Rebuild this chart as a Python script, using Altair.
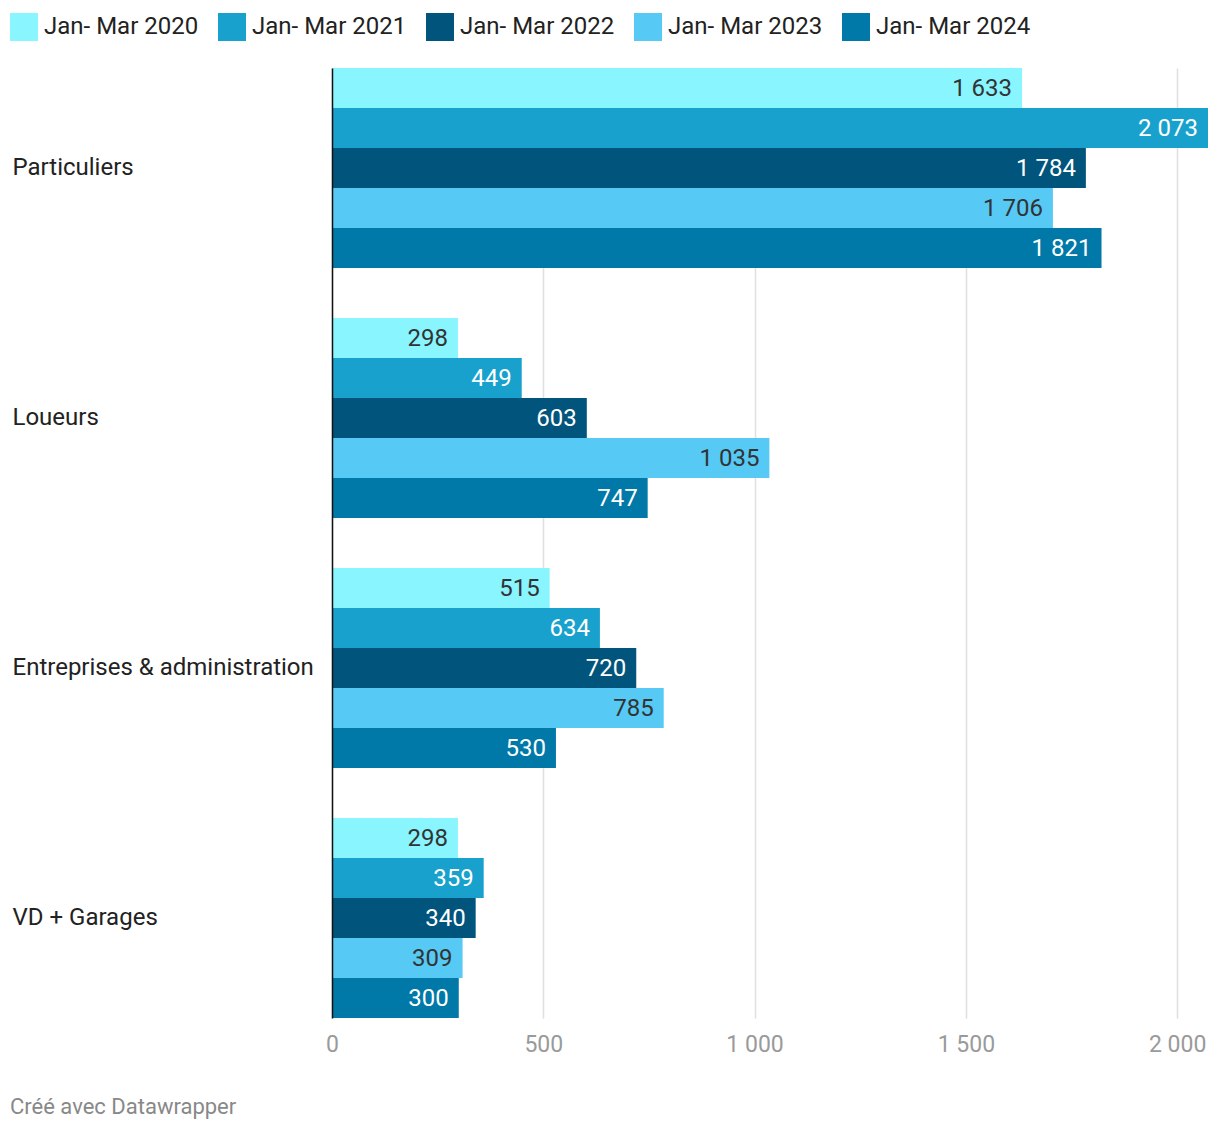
import altair as alt
import pandas as pd

categories = ["Particuliers", "Loueurs", "Entreprises & administration", "VD + Garages"]
periods = ["Jan- Mar 2020", "Jan- Mar 2021", "Jan- Mar 2022", "Jan- Mar 2023", "Jan- Mar 2024"]
v2020 = [1633, 298, 515, 298]
v2021 = [2073, 449, 634, 359]
v2022 = [1784, 603, 720, 340]
v2023 = [1706, 1035, 785, 309]
v2024 = [1821, 747, 530, 300]
colors = ["#88f5ff", "#19a1cd", "#01557d", "#56c9f5", "#0079a8"]
x_ticks = [0, 500, 1000, 1500, 2000]

series = [v2020, v2021, v2022, v2023, v2024]
rows = []
for p, vals in zip(periods, series):
    for c, v in zip(categories, vals):
        rows.append({"category": c, "period": p, "value": v,
                     "label": f"{v:,}".replace(",", " ")})
df = pd.DataFrame(rows)

FONT = "Roboto"

base = alt.Chart(df).encode(
    y=alt.Y("category:N", sort=categories,
            scale=alt.Scale(paddingInner=0.2, paddingOuter=0),
            axis=alt.Axis(title=None, labelAlign="left", labelPadding=320, ticks=False,
                          domain=True, domainColor="#111111", domainWidth=1.5,
                          labelFontSize=24, labelColor="#222222", labelFont=FONT,
                          labelLimit=400, grid=False, labelBaseline="middle", zindex=2)),
    yOffset=alt.YOffset("period:N", sort=periods,
                        scale=alt.Scale(paddingInner=0, paddingOuter=0)),
)

bars = base.mark_bar(size=40).encode(
    x=alt.X("value:Q", scale=alt.Scale(domain=[0, 2073], nice=False, zero=True),
            axis=alt.Axis(title=None, values=x_ticks, domain=False, ticks=False, grid=True,
                          gridColor="#e0e0e0", gridWidth=1.5, labelColor="#9a9a9a",
                          labelFontSize=23, labelFont=FONT, labelPadding=15, labelFlush=False,
                          labelExpr="replace(format(datum.value, ','), ',', ' ')")),
    color=alt.Color("period:N", sort=periods,
                    scale=alt.Scale(domain=periods, range=colors),
                    legend=alt.Legend(title=None, orient="none", direction="horizontal",
                                      legendX=-322, legendY=-55, symbolType="square",
                                      symbolSize=784, symbolStrokeWidth=0, symbolOpacity=1,
                                      labelFontSize=24, labelFont=FONT, labelColor="#222222",
                                      labelOffset=6, columnPadding=19, padding=0,
                                      labelLimit=300)),
)

labels = base.mark_text(align="right", baseline="middle", dx=-10, dy=1, fontSize=24, font=FONT).encode(
    x="value:Q",
    text="label:N",
    color=alt.condition(
        alt.FieldOneOfPredicate(field="period", oneOf=["Jan- Mar 2020", "Jan- Mar 2023"]),
        alt.value("#333333"), alt.value("#ffffff")),
)

footer = alt.Chart(pd.DataFrame({"t": ["Créé avec Datawrapper"]})).mark_text(
    align="left", baseline="middle", fontSize=22, font=FONT, color="#888888"
).encode(x=alt.value(-322), y=alt.value(1039), text="t:N")

chart = alt.layer(bars, labels, footer).properties(
    width=876, height=950,
    autosize=alt.AutoSizeParams(type="none"),
    padding={"left": 324, "top": 60, "right": 0, "bottom": 104},
).configure(font=FONT).configure_view(stroke=None)

chart.save("out.html", embed_options={"renderer": "svg", "actions": False})
